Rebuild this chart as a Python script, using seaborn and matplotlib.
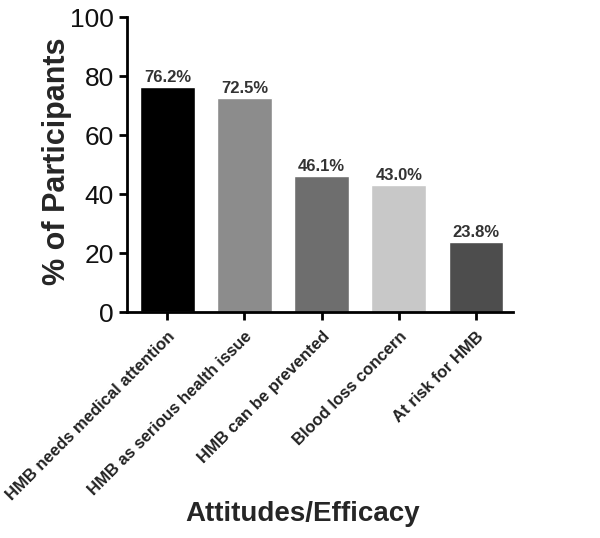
import matplotlib
matplotlib.use("Agg")
import matplotlib.pyplot as plt
import seaborn as sns
import pandas as pd

categories = ["HMB needs medical attention", "HMB as serious health issue",
              "HMB can be prevented", "Blood loss concern", "At risk for HMB"]
values = [76.2, 72.5, 46.1, 43.0, 23.8]
bar_colors = ["#000000", "#8c8c8c", "#6e6e6e", "#c8c8c8", "#4d4d4d"]
yticks = [0, 20, 40, 60, 80, 100]

sns.set_theme(style="ticks")
plt.rcParams["font.family"] = ["Liberation Sans", "DejaVu Sans"]

df = pd.DataFrame({"cat": categories, "val": values})

fig = plt.figure(figsize=(6, 5.38), dpi=100)
ax = fig.add_axes([0.212, 0.42, 0.643, 0.548])

sns.barplot(data=df, x="cat", y="val", hue="cat", palette=bar_colors,
            width=0.71, legend=False, ax=ax, saturation=1)

for i, v in enumerate(values):
    ax.text(i, v + 0.8, f"{v:.1f}%", ha="center", va="bottom",
            fontsize=12, fontweight="bold", color="#333333")

ax.set_ylim(0, 100)
ax.set_xlim(-0.52, 4.48)
ax.set_yticks(yticks)
ax.set_yticklabels([str(t) for t in yticks], fontsize=19, color="#111111")
ax.set_xticks(range(len(categories)))
ax.set_xticklabels(categories, rotation=45, ha="right", rotation_mode="anchor",
                   fontsize=12, fontweight="bold", color="#222222")

for s in ["top", "right"]:
    ax.spines[s].set_visible(False)
for s in ["left", "bottom"]:
    ax.spines[s].set_linewidth(2)
    ax.spines[s].set_color("black")
ax.tick_params(axis="both", direction="out", width=2, length=6, color="black")
ax.tick_params(axis="x", pad=6)

ax.set_ylabel("% of Participants", fontsize=22, fontweight="bold")
ax.yaxis.set_label_coords(-0.142, 0.51)
ax.set_xlabel("")
fig.text(0.505, 0.045, "Attitudes/Efficacy", ha="center", va="center",
         fontsize=20, fontweight="bold")

fig.savefig("out.png", dpi=100)
